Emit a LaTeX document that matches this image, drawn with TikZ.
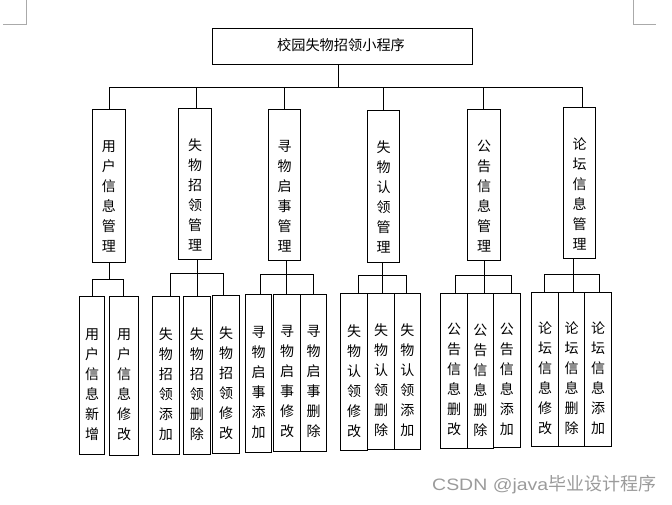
\documentclass[tikz,border=0pt]{standalone}
\usepackage{fontspec}
\setmainfont{Noto Sans CJK SC}
\newfontfamily\wmlatin{Liberation Sans}
\usetikzlibrary{fit}
\definecolor{wmgray}{RGB}{155,155,155}
\definecolor{cropgray}{RGB}{170,170,170}
\newcommand\mkbox[7]{%
  \node[box, fit={(#2,#3) (#4,#5)}] (#1) {};
  \node[vtxt] (#1t) at ([yshift=-#6pt]#1.center) {#7};}
\begin{document}
\begin{tikzpicture}[x=1pt,y=-1pt,line width=1pt,
  box/.style={draw, inner sep=0pt, line width=1pt},
  vtxt/.style={align=center, inner sep=0pt, font=\fontsize{14}{20}\selectfont},
  wire/.style={line width=1pt},
  cropmark/.style={line width=1pt, draw=cropgray}]
\useasboundingbox (0,0) rectangle (672,504);
% crop marks
\draw[cropmark] (26,0) -- (26,24) -- (3,24);
\draw[cropmark] (633,0) -- (633,24) -- (656,24);
% top
\node[box, fit={(212.3,28.3) (472.4,64)}] (top) {};
\node[inner sep=0pt, font=\fontsize{14.2}{16}\selectfont] (toptxt) at (341,45) {校园失物招领小程序};
% level 2
\mkbox{b1}{92.3}{109.3}{125.3}{262.3}{11}{用\\户\\信\\息\\管\\理}
\mkbox{b2}{178.3}{108.3}{211.7}{259.3}{11}{失\\物\\招\\领\\管\\理}
\mkbox{b3}{268.7}{109.3}{300.7}{260.3}{11}{寻\\物\\启\\事\\管\\理}
\mkbox{b4}{367.3}{110.3}{399.7}{262.3}{11}{失\\物\\认\\领\\管\\理}
\mkbox{b5}{467.3}{109.3}{500.7}{260.3}{11}{公\\告\\信\\息\\管\\理}
\mkbox{b6}{563.3}{107.3}{595.7}{258.3}{11}{论\\坛\\信\\息\\管\\理}
% bus
\coordinate (busc) at (338,87);
\coordinate (d1) at (109.3,87);
\coordinate (d2) at (196,87);
\coordinate (d3) at (284,87);
\coordinate (d4) at (383,87);
\coordinate (d5) at (483.5,87);
\coordinate (d6) at (582.3,87);
\draw[wire] (top.south -| busc) -- ([yshift=-1pt]busc);
\draw[wire] (d1) -- ([xshift=1pt]d6);
\foreach \i in {1,...,6}{\draw[wire] (d\i) -- (d\i |- b\i.north);}
% level 3 boxes
\mkbox{c11}{79.3}{296}{104.7}{454.3}{9}{用\\户\\信\\息\\新\\增}
\mkbox{c12}{109.3}{296}{138.7}{455.7}{9}{用\\户\\信\\息\\修\\改}
\mkbox{c21}{152.3}{296}{179.3}{454.3}{9}{失\\物\\招\\领\\添\\加}
\mkbox{c22}{183.3}{296}{210.3}{454.3}{9}{失\\物\\招\\领\\删\\除}
\mkbox{c23}{212.3}{295.3}{239.7}{453}{9}{失\\物\\招\\领\\修\\改}
\mkbox{c31}{245.3}{294.3}{271.7}{452.3}{9}{寻\\物\\启\\事\\添\\加}
\mkbox{c32}{273.7}{294.3}{300.3}{451.3}{9}{寻\\物\\启\\事\\修\\改}
\mkbox{c33}{300.3}{294.3}{326.7}{451.3}{9}{寻\\物\\启\\事\\删\\除}
\mkbox{c41}{340.3}{293.3}{367.7}{450.3}{9}{失\\物\\认\\领\\修\\改}
\mkbox{c42}{367.7}{293.3}{394.3}{449.3}{9}{失\\物\\认\\领\\删\\除}
\mkbox{c43}{394.3}{293.3}{420.3}{449.3}{9}{失\\物\\认\\领\\添\\加}
\mkbox{c51}{440.7}{293.3}{467.3}{448}{9}{公\\告\\信\\息\\删\\改}
\mkbox{c52}{467.3}{293.3}{493.3}{448.7}{9}{公\\告\\信\\息\\删\\除}
\mkbox{c53}{493.3}{293.3}{520.3}{447}{9}{公\\告\\信\\息\\添\\加}
\mkbox{c61}{531.3}{292.3}{558.7}{446}{9}{论\\坛\\信\\息\\修\\改}
\mkbox{c62}{558.7}{292.3}{584.3}{446}{9}{论\\坛\\信\\息\\删\\除}
\mkbox{c63}{584.3}{292.3}{611.7}{446}{9}{论\\坛\\信\\息\\添\\加}
% group 1
\coordinate (g1s) at (109.3,279.3);
\coordinate (g1a) at (92,279.3);
\coordinate (g1b) at (123.3,279.3);
\draw[wire] (b1.south -| g1s) -- (g1s);
\draw[wire] (g1a) -- (g1b);
\draw[wire] (g1a) -- (g1a |- c11.north);
\draw[wire] (g1b) -- (g1b |- c12.north);
% group 2
\coordinate (g2a) at (170.3,273.3);
\coordinate (g2b) at (197.3,273.3);
\coordinate (g2c) at (223.3,273.3);
\draw[wire] (b2.south -| g2b) -- (g2b);
\draw[wire] (g2a) -- (g2c);
\draw[wire] (g2a) -- (g2a |- c21.north);
\draw[wire] (g2b) -- (g2b |- c22.north);
\draw[wire] (g2c) -- (g2c |- c23.north);
% group 3
\coordinate (g3a) at (260.7,274.3);
\coordinate (g3b) at (286.3,274.3);
\coordinate (g3c) at (313.3,274.3);
\draw[wire] (b3.south -| g3b) -- (g3b);
\draw[wire] (g3a) -- (g3c);
\draw[wire] (g3a) -- (g3a |- c31.north);
\draw[wire] (g3b) -- (g3b |- c32.north);
\draw[wire] (g3c) -- (g3c |- c33.north);
% group 4
\coordinate (g4a) at (358.3,275);
\coordinate (g4b) at (382.7,275);
\coordinate (g4c) at (406,275);
\draw[wire] (b4.south -| g4b) -- (g4b);
\draw[wire] (g4a) -- (g4c);
\draw[wire] (g4a) -- (g4a |- c41.north);
\draw[wire] (g4b) -- (g4b |- c42.north);
\draw[wire] (g4c) -- (g4c |- c43.north);
% group 5
\coordinate (g5a) at (455.3,275.3);
\coordinate (g5b) at (484.3,275.3);
\coordinate (g5c) at (511.3,275.3);
\draw[wire] (b5.south -| g5b) -- (g5b);
\draw[wire] (g5a) -- (g5c);
\draw[wire] (g5a) -- (g5a |- c51.north);
\draw[wire] (g5b) -- (g5b |- c52.north);
\draw[wire] (g5c) -- (g5c |- c53.north);
% group 6
\coordinate (g6a) at (544.3,274.3);
\coordinate (g6b) at (573.3,274.3);
\coordinate (g6c) at (599.3,274.3);
\draw[wire] (b6.south -| g6b) -- (g6b);
\draw[wire] (g6a) -- (g6c);
\draw[wire] (g6a) -- (g6a |- c61.north);
\draw[wire] (g6b) -- (g6b |- c62.north);
\draw[wire] (g6c) -- (g6c |- c63.north);
% watermark
\node[anchor=west, inner sep=0pt, text=wmgray, font=\fontsize{18}{20}\selectfont] (wm) at (431.7,484.2) {\scalebox{1.18}[1]{\fontsize{16.5}{18}\wmlatin CSDN @java}毕业设计程序};
\end{tikzpicture}
\end{document}
